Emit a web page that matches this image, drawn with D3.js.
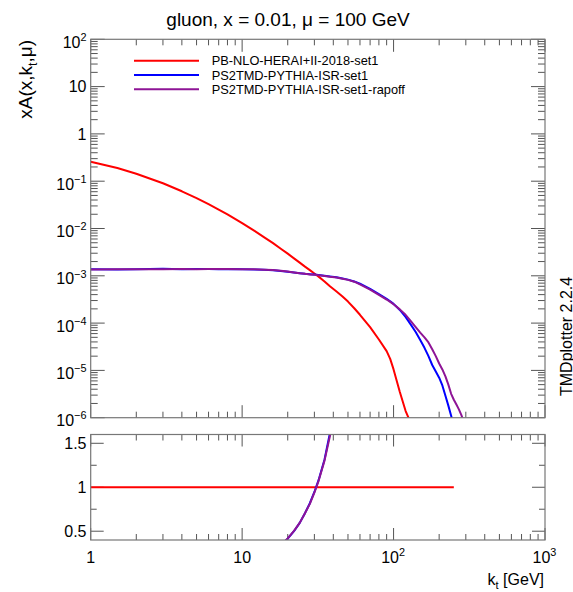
<!DOCTYPE html>
<meta charset="utf-8">
<style>
  body { margin: 0; background: #fff; }
  svg { font-family: "Liberation Sans", Arial, Helvetica, sans-serif; }
</style>
<body>
<svg id="chart" width="573" height="592"></svg>
<script src="https://cdn.jsdelivr.net/npm/d3@7"></script>
<script>
// kt grid [GeV]
const kt = [1, 1.5, 2, 3, 4, 5, 6, 7, 8, 10, 12, 14, 16, 18, 20, 22, 24, 26, 28, 30,
  32, 35, 38, 42, 46, 50, 55, 60, 70, 80, 90, 95, 100, 110, 120, 130, 140, 150, 160,
  170, 180, 190, 200, 210, 220, 230, 240, 250, 260, 270, 280, 290, 300];

// xA(x,kt,mu) per set
const pbNlo = [0.258, 0.190, 0.144, 0.0903, 0.0612, 0.0439, 0.0327, 0.0252, 0.0199, 0.0130,
  9.0e-3, 6.5e-3, 4.9e-3, 3.74e-3, 2.94e-3, 2.34e-3, 1.90e-3, 1.56e-3, 1.32e-3, 1.12e-3,
  9.6e-4, 7.6e-4, 6.0e-4, 4.65e-4, 3.65e-4, 2.85e-4, 2.06e-4, 1.50e-4, 8.2e-5, 4.5e-5,
  2.55e-5, 1.75e-5, 1.05e-5, 3.5e-6, 1.4e-6, 7.6e-7, 4.5e-7, 2.5e-7, 1.4e-7,
  8e-8, 4.5e-8, 2.5e-8, 1.4e-8, 8e-9, 5e-9, 3e-9, 1.8e-9, 1e-9, null, null, null, null, null];

const ps2tmd = [1.38e-3, 1.36e-3, 1.37e-3, 1.41e-3, 1.38e-3, 1.39e-3, 1.40e-3, 1.38e-3, 1.39e-3, 1.37e-3,
  1.36e-3, 1.34e-3, 1.31e-3, 1.27e-3, 1.22e-3, 1.17e-3, 1.13e-3, 1.10e-3, 1.08e-3, 1.06e-3,
  1.04e-3, 1.0e-3, 9.7e-4, 9.3e-4, 8.8e-4, 8.3e-4, 7.6e-4, 6.8e-4, 5.3e-4, 4.1e-4,
  3.25e-4, 2.9e-4, 2.55e-4, 1.9e-4, 1.35e-4, 9.3e-5, 6.5e-5, 4.4e-5, 3.0e-5,
  2.0e-5, 1.3e-5, 9.5e-6, 7.0e-6, 4.8e-6, 2.9e-6, 1.8e-6, 1.1e-6, 6.5e-7, 4e-7, 2.5e-7, 1.5e-7, 9e-8, 5e-8];

const ps2tmdRapoff = [1.36e-3, 1.38e-3, 1.38e-3, 1.38e-3, 1.39e-3, 1.38e-3, 1.39e-3, 1.40e-3, 1.39e-3, 1.38e-3,
  1.37e-3, 1.35e-3, 1.32e-3, 1.28e-3, 1.23e-3, 1.18e-3, 1.13e-3, 1.10e-3, 1.07e-3, 1.05e-3,
  1.03e-3, 9.9e-4, 9.5e-4, 9.2e-4, 8.7e-4, 8.2e-4, 7.5e-4, 6.6e-4, 5.1e-4, 3.95e-4,
  3.15e-4, 2.8e-4, 2.5e-4, 1.95e-4, 1.5e-4, 1.1e-4, 8.2e-5, 6.3e-5, 5.0e-5,
  3.9e-5, 2.8e-5, 2.0e-5, 1.4e-5, 1.05e-5, 7.5e-6, 5.0e-6, 3.2e-6, 2.4e-6, 1.9e-6, 1.5e-6, 1.15e-6, 8.5e-7, 6e-7];

const setNames = ["PB-NLO-HERAI+II-2018-set1", "PS2TMD-PYTHIA-ISR-set1", "PS2TMD-PYTHIA-ISR-set1-rapoff"];
const setColors = ["#ff0000", "#0000ff", "#8e1496"];

// tick labels: [value, base, exponent]
const xTickLabels = [[1, "1", ""], [10, "10", ""], [100, "10", "2"], [1000, "10", "3"]];
const yTickLabels = [[100, "10", "2"], [10, "10", ""], [1, "1", ""], [0.1, "10", "\u22121"],
  [0.01, "10", "\u22122"], [1e-3, "10", "\u22123"], [1e-4, "10", "\u22124"], [1e-5, "10", "\u22125"], [1e-6, "10", "\u22126"]];
const ratioMajor = [0.5, 1, 1.5];
const ratioMinor = [0.75, 1.25];

const svg = d3.select("#chart");

// frame geometry
const left = 90.7, right = 545;
const topY0 = 39.3, topY1 = 417.7;
const lowY0 = 434.5, lowY1 = 540;

const x = d3.scaleLog().domain([1, 1000]).range([left, right]);
const y = d3.scaleLog().domain([1e-6, 100]).range([topY1, topY0]);
const yr = d3.scaleLinear().domain([0.4, 1.6]).range([lowY1, lowY0]);

const isDecade = v => Math.abs(Math.log10(v) - Math.round(Math.log10(v))) < 1e-6;

const defs = svg.append("defs");
defs.append("clipPath").attr("id", "clipTop").append("rect")
  .attr("x", left).attr("y", topY0).attr("width", right - left).attr("height", topY1 - topY0);
defs.append("clipPath").attr("id", "clipLow").append("rect")
  .attr("x", left).attr("y", lowY0).attr("width", right - left).attr("height", lowY1 - lowY0);

const tickColor = "#555";
function tickLine(g, x1, y1, x2, y2) {
  g.append("line").attr("x1", x1).attr("y1", y1).attr("x2", x2).attr("y2", y2)
    .attr("stroke", tickColor).attr("stroke-width", 1);
}

function drawXTicks(g, yTop, yBot, majLen, minLen) {
  x.ticks().forEach(v => {
    const px = x(v), len = isDecade(v) ? majLen : minLen;
    tickLine(g, px, yBot, px, yBot - len);
    tickLine(g, px, yTop, px, yTop + len);
  });
}

// ---------- top panel ----------
const gTop = svg.append("g");
drawXTicks(gTop, topY0, topY1, 12.5, 6);
y.ticks().forEach(v => {
  const py = y(v), len = isDecade(v) ? 14 : 7;
  tickLine(gTop, left, py, left + len, py);
  tickLine(gTop, right, py, right - len, py);
});

const series = [pbNlo, ps2tmd, ps2tmdRapoff];
const lineTop = d3.line()
  .defined(d => d[1] != null && d[1] > 0)
  .x(d => x(d[0])).y(d => y(d[1]));

const curves = gTop.append("g").attr("clip-path", "url(#clipTop)");
series.forEach((s, i) => {
  curves.append("path")
    .datum(kt.map((k, j) => [k, s[j]]))
    .attr("d", lineTop)
    .attr("fill", "none")
    .attr("stroke", setColors[i])
    .attr("stroke-width", 2)
    .attr("stroke-linejoin", "round");
});

gTop.append("rect").attr("x", left).attr("y", topY0)
  .attr("width", right - left).attr("height", topY1 - topY0)
  .attr("fill", "none").attr("stroke", "#777").attr("stroke-width", 1.2);

// y tick labels
function expLabel(g, px, py, base, exp, size, anchor) {
  const t = g.append("text").attr("x", px).attr("y", py)
    .attr("text-anchor", anchor).attr("font-size", size).attr("fill", "#000");
  t.append("tspan").text(base);
  if (exp) t.append("tspan").attr("dy", -size * 0.42).attr("font-size", size * 0.68).text(exp);
  return t;
}
yTickLabels.forEach(([v, b, e]) => {
  expLabel(gTop, 86.5, y(v) + (e ? 8.5 : 5.8), b, e, 16, "end");
});

// legend
const legend = svg.append("g");
setNames.forEach((name, i) => {
  const ly = 60.7 + i * 14.3;
  legend.append("line").attr("x1", 134).attr("x2", 199).attr("y1", ly).attr("y2", ly)
    .attr("stroke", setColors[i]).attr("stroke-width", 2);
  legend.append("text").attr("x", 211.7).attr("y", ly + 4.6)
    .attr("font-size", 12.8).text(name);
});

// ---------- ratio panel ----------
const gLow = svg.append("g");
drawXTicks(gLow, lowY0, lowY1, 12, 6);
ratioMajor.concat(ratioMinor).forEach(v => {
  const len = ratioMajor.includes(v) ? 13 : 6;
  tickLine(gLow, left, yr(v), left + len, yr(v));
  tickLine(gLow, right, yr(v), right - len, yr(v));
});

const lineLow = d3.line()
  .defined(d => d[1] != null)
  .x(d => x(d[0])).y(d => yr(d[1]));
const ratioCurves = gLow.append("g").attr("clip-path", "url(#clipLow)");
series.forEach((s, i) => {
  const pts = kt.map((k, j) => [k, pbNlo[j] != null && s[j] != null ? s[j] / pbNlo[j] : null]);
  ratioCurves.append("path")
    .datum(pts)
    .attr("d", lineLow)
    .attr("fill", "none")
    .attr("stroke", setColors[i])
    .attr("stroke-width", 2)
    .attr("stroke-linejoin", "round");
});

gLow.append("rect").attr("x", left).attr("y", lowY0)
  .attr("width", right - left).attr("height", lowY1 - lowY0)
  .attr("fill", "none").attr("stroke", "#777").attr("stroke-width", 1.2);

ratioMajor.forEach(v => {
  gLow.append("text").attr("x", 86.5).attr("y", yr(v) + 5.8)
    .attr("text-anchor", "end").attr("font-size", 16).text(v === 1 ? "1" : String(v));
});

xTickLabels.forEach(([v, b, e]) => {
  expLabel(gLow, x(v) + (e ? -0.5 : 0), 563, b, e, 16, "middle");
});

// ---------- titles ----------
svg.append("text").attr("x", 288).attr("y", 26)
  .attr("text-anchor", "middle").attr("font-size", 19)
  .text("gluon, x = 0.01, \u03bc = 100 GeV");

const xl = svg.append("text").attr("x", 544).attr("y", 585)
  .attr("text-anchor", "end").attr("font-size", 16);
xl.append("tspan").text("k");
xl.append("tspan").attr("dy", 4).attr("font-size", 11).text("t");
xl.append("tspan").attr("dy", -4).text(" [GeV]");

const yl = svg.append("text")
  .attr("transform", "translate(32,40) rotate(-90)")
  .attr("text-anchor", "end").attr("font-size", 19);
yl.append("tspan").text("xA(x,k");
yl.append("tspan").attr("dy", 5).attr("font-size", 12).text("t");
yl.append("tspan").attr("dy", -5).text(",\u03bc)");

svg.append("text")
  .attr("transform", "translate(571.5,396) rotate(-90)")
  .attr("font-size", 16)
  .text("TMDplotter 2.2.4");
</script>
</body>
